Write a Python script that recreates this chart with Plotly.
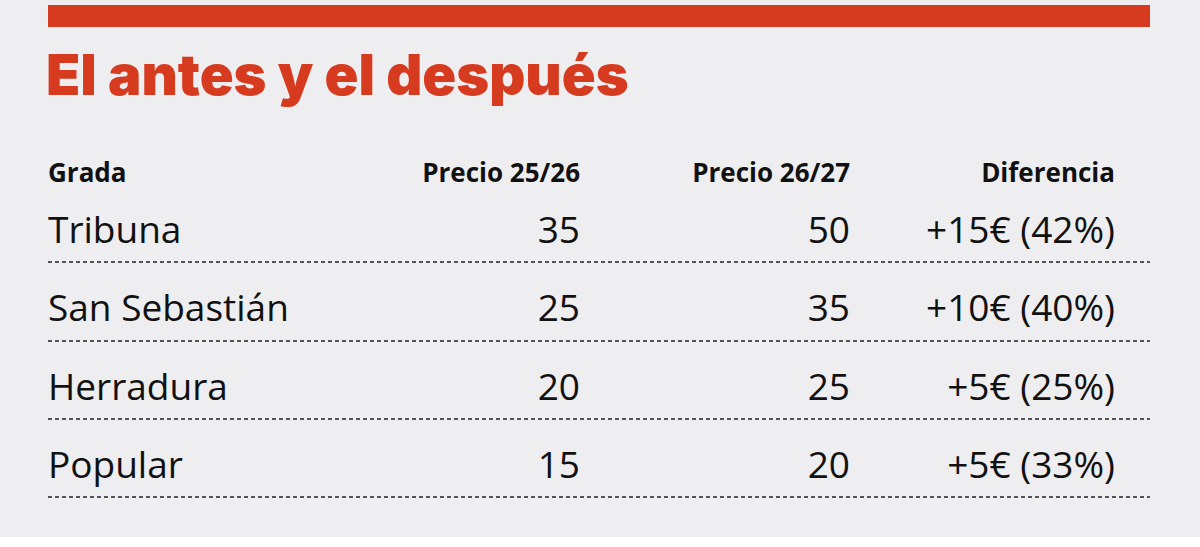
import plotly.graph_objects as go

title = "El antes y el después"
headers = ["Grada", "Precio 25/26", "Precio 26/27", "Diferencia"]
gradas = ["Tribuna", "San Sebastián", "Herradura", "Popular"]
precio_2526 = [35, 25, 20, 15]
precio_2627 = [50, 35, 25, 20]
diferencia = ["+15€ (42%)", "+10€ (40%)", "+5€ (25%)", "+5€ (33%)"]

RED = "#d63b1f"
BG = "#eeedef"
row_y = [234, 312, 391, 469]
line_y = [262, 341, 419, 497]
col_x = [48, 580, 850, 1115]
rowfont = dict(family="Open Sans", size=37, color="#111111")
headfont = dict(family="Open Sans", size=26, color="#111111", weight=700)

fig = go.Figure()
cols = [gradas, [str(v) for v in precio_2526], [str(v) for v in precio_2627], diferencia]
for i, col in enumerate(cols):
    fig.add_trace(go.Scatter(x=[col_x[i]] * len(col), y=row_y, mode="text", text=col,
                             textposition="middle right" if i == 0 else "middle left",
                             textfont=rowfont, hoverinfo="skip"))
    fig.add_trace(go.Scatter(x=[col_x[i]], y=[175], mode="text", text=[headers[i]],
                             textposition="middle right" if i == 0 else "middle left",
                             textfont=headfont, hoverinfo="skip"))

shapes = [dict(type="rect", xref="x", yref="y", x0=48, x1=1150, y0=5, y1=27,
               fillcolor=RED, line_width=0),
          dict(type="rect", xref="x", yref="y", x0=0, x1=1200, y0=537, y1=547,
               fillcolor="white", line_width=0)]
for y in line_y:
    shapes.append(dict(type="line", xref="x", yref="y", x0=48, x1=1150, y0=y, y1=y,
                       line=dict(color="#222222", width=1.5, dash="4px,3px")))

fig.update_layout(
    width=1200, height=547, margin=dict(l=0, r=0, t=0, b=0),
    paper_bgcolor=BG, plot_bgcolor=BG, showlegend=False, shapes=shapes,
    xaxis=dict(range=[0, 1200], visible=False, fixedrange=True),
    yaxis=dict(range=[547, 0], visible=False, fixedrange=True),
    annotations=[dict(text=title, x=44, y=75, xref="x", yref="y", xanchor="left",
                      yanchor="middle", showarrow=False,
                      font=dict(family="Inter", size=56, color=RED, weight=900))],
)
fig.write_html("out.html", config={"displayModeBar": False},
               post_script="document.body.style.margin='0';document.body.style.overflow='hidden';")
